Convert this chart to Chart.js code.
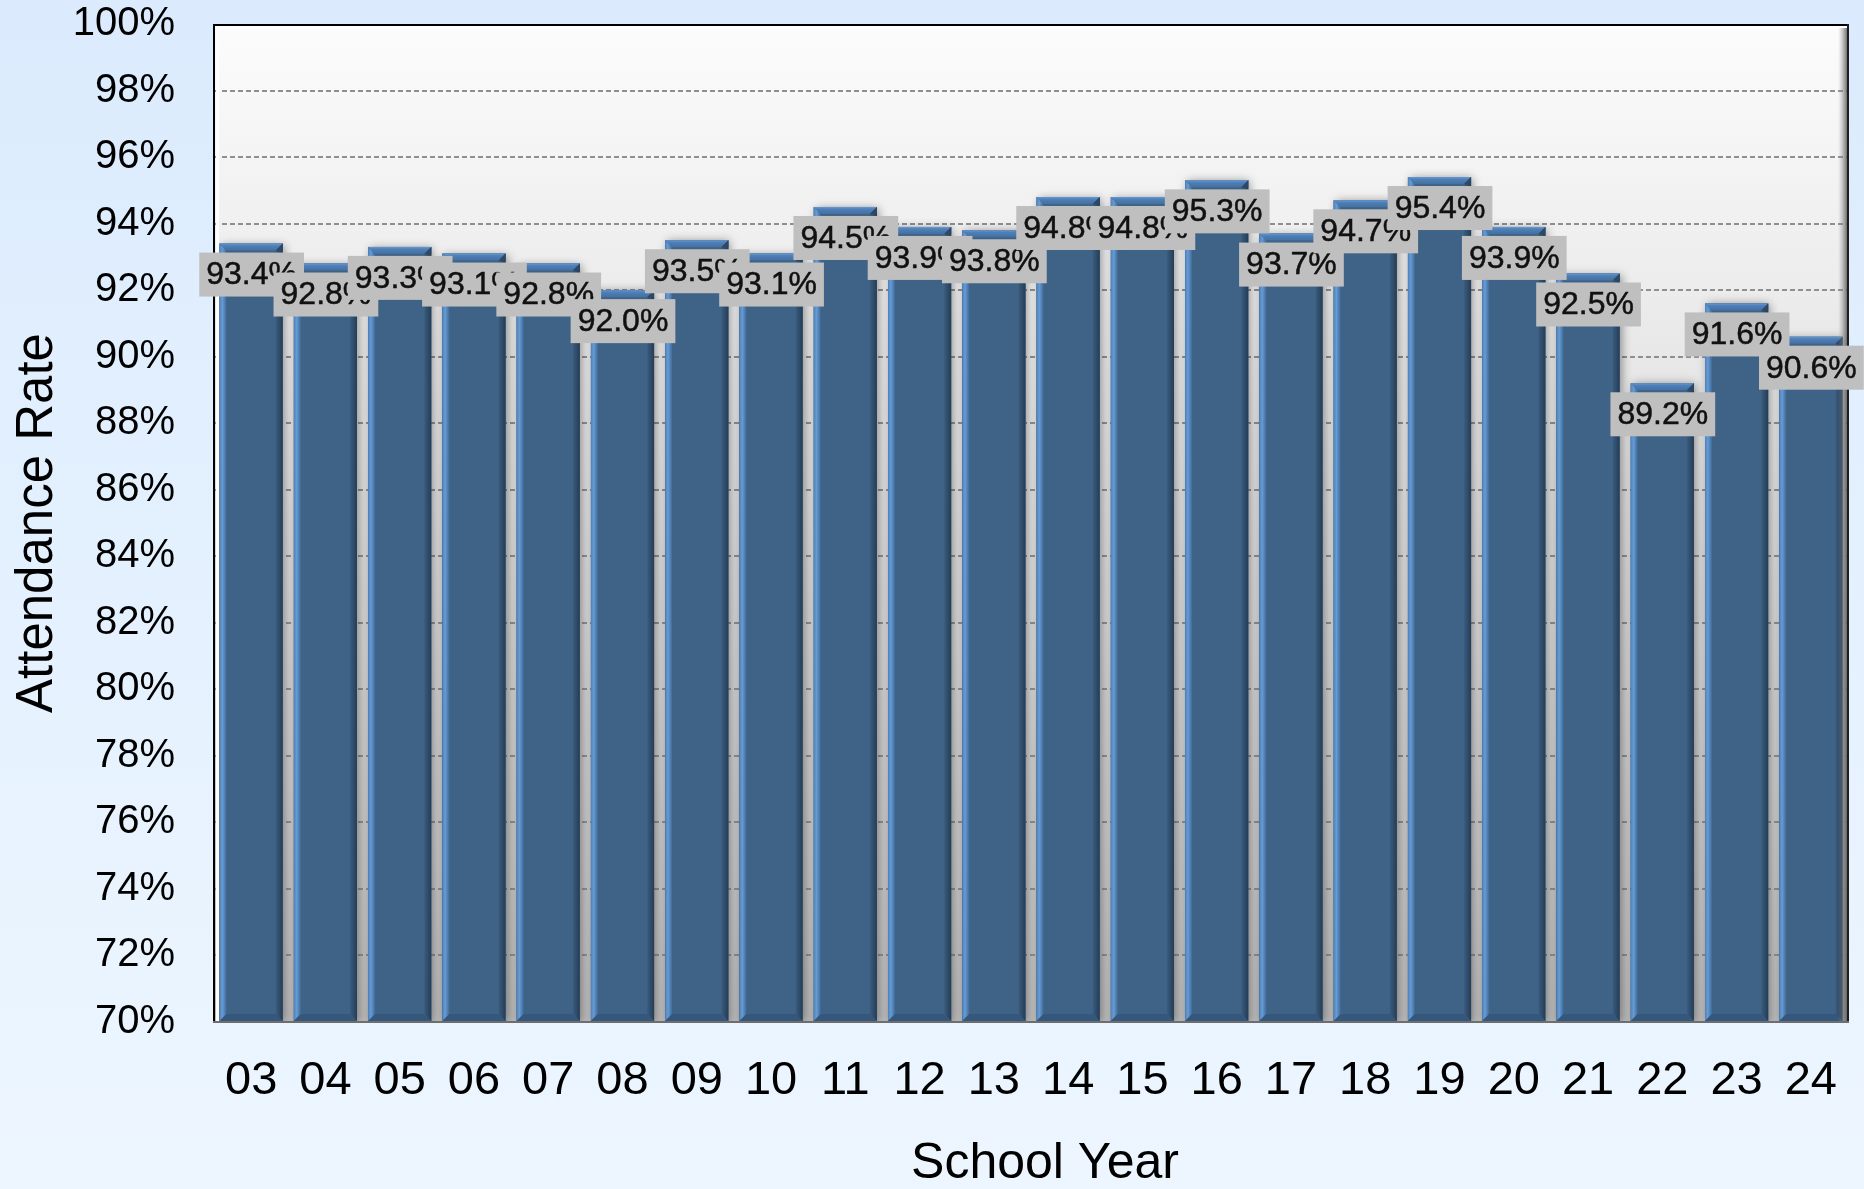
<!DOCTYPE html>
<html>
<head>
<meta charset="utf-8">
<script src="https://cdn.jsdelivr.net/npm/chart.js@4.4.1/dist/chart.umd.min.js"></script>
<style>
  html, body { margin: 0; padding: 0; background: #e4f0fd; }
  #wrap { width: 1864px; height: 1189px; position: relative; }
</style>
</head>
<body>
<div id="wrap"><canvas id="attendanceChart"></canvas></div>
<script>
(function(){
  // school years (last two digits) and attendance rate in percent
  var years = ['03','04','05','06','07','08','09','10','11','12','13','14','15','16','17','18','19','20','21','22','23','24'];
  var rates = [93.4, 92.8, 93.3, 93.1, 92.8, 92.0, 93.5, 93.1, 94.5, 93.9, 93.8, 94.8, 94.8, 95.3, 93.7, 94.7, 95.4, 93.9, 92.5, 89.2, 91.6, 90.6];
  var yMin = 70;
  var yMax = 100;
  var yStep = 2;
  var xTitle = 'School Year';
  var yTitle = 'Attendance Rate';

  var FONT = '"Liberation Sans", Arial, sans-serif';

  // page + plot background, bar bevels, frame and value labels
  var backdrop = {
    id: 'backdrop',
    beforeDraw: function(chart){
      var ctx = chart.ctx, a = chart.chartArea;
      ctx.save();
      var g = ctx.createLinearGradient(0, 0, 0, chart.height);
      g.addColorStop(0, '#dbebfd');
      g.addColorStop(1, '#edf6ff');
      ctx.fillStyle = g;
      ctx.fillRect(0, 0, chart.width, chart.height);
      var p = ctx.createLinearGradient(0, a.top, 0, a.bottom);
      p.addColorStop(0, '#fcfcfc');
      p.addColorStop(0.3, '#eaeaea');
      p.addColorStop(1, '#bdbdbd');
      ctx.fillStyle = p;
      ctx.fillRect(a.left, a.top, a.right - a.left, a.bottom - a.top);
      ctx.restore();
    },
    beforeDatasetsDraw: function(chart){
      var ctx = chart.ctx, a = chart.chartArea;
      var meta = chart.getDatasetMeta(0);
      ctx.save();
      ctx.beginPath();
      ctx.rect(a.left, a.top, a.right - a.left, a.bottom - a.top);
      ctx.clip();
      ctx.shadowColor = 'rgba(0,0,0,0.4)';
      ctx.shadowBlur = 9;
      ctx.shadowOffsetX = 2;
      ctx.shadowOffsetY = 1;
      ctx.fillStyle = '#3f6387';
      meta.data.forEach(function(bar){
        var yB = Math.min(bar.base, a.bottom);
        ctx.fillRect(bar.x - bar.width / 2, bar.y, bar.width, yB - bar.y);
      });
      ctx.restore();
    },
    afterDatasetsDraw: function(chart){
      var ctx = chart.ctx, a = chart.chartArea;
      var meta = chart.getDatasetMeta(0);
      var b = 7;
      ctx.save();
      // bevels on each bar
      meta.data.forEach(function(bar){
        var x0 = bar.x - bar.width / 2, x1 = bar.x + bar.width / 2;
        var yT = bar.y, yB = Math.min(bar.base, a.bottom - 1);
        function poly(pts, fill){
          ctx.beginPath();
          ctx.moveTo(pts[0][0], pts[0][1]);
          for (var k = 1; k < pts.length; k++) ctx.lineTo(pts[k][0], pts[k][1]);
          ctx.closePath();
          ctx.fillStyle = fill;
          ctx.fill();
        }
        var lg = ctx.createLinearGradient(x0, 0, x0 + b, 0);
        lg.addColorStop(0, '#4f82bb');
        lg.addColorStop(0.4, '#669bd4');
        lg.addColorStop(1, '#3f6a98');
        poly([[x0, yT], [x0 + b, yT + b], [x0 + b, yB - b], [x0, yB]], lg);
        var rg = ctx.createLinearGradient(x1 - b, 0, x1, 0);
        rg.addColorStop(0, '#3a5c7f');
        rg.addColorStop(1, '#253d56');
        poly([[x1, yT], [x1, yB], [x1 - b, yB - b], [x1 - b, yT + b]], rg);
        poly([[x0, yB], [x1, yB], [x1 - b, yB - b], [x0 + b, yB - b]], '#34577b');
        var tg = ctx.createLinearGradient(0, yT, 0, yT + b);
        tg.addColorStop(0, '#6a9ad1');
        tg.addColorStop(0.3, '#4f80b9');
        tg.addColorStop(1, '#456f9f');
        poly([[x0, yT], [x1, yT], [x1 - b, yT + b], [x0 + b, yT + b]], tg);
        poly([[x1, yT], [x1, yT + b], [x1 - b, yT + b]], '#2c4864');
      });

      // plot frame
      ctx.fillStyle = '#ffffff';
      ctx.fillRect(a.left + 2, a.top + 2, 3, a.bottom - a.top - 2);
      ctx.fillRect(a.left + 2, a.top + 2, a.right - a.left - 4, 3);
      var sg = ctx.createLinearGradient(a.right - 10, 0, a.right - 1, 0);
      sg.addColorStop(0, 'rgba(160,160,160,0)');
      sg.addColorStop(1, 'rgba(90,90,90,0.85)');
      ctx.fillStyle = sg;
      ctx.fillRect(a.right - 10, a.top + 4, 9, a.bottom - a.top - 4);
      ctx.fillStyle = '#000000';
      ctx.fillRect(a.left - 1, a.top, a.right - a.left + 2, 2);
      ctx.fillRect(a.left - 1, a.top, 2, a.bottom - a.top);
      ctx.fillStyle = '#1e1e1e';
      ctx.fillRect(a.right - 1, a.top, 2, a.bottom - a.top + 1);
      ctx.fillStyle = '#6e6e6e';
      ctx.fillRect(a.left - 1, a.bottom - 1, a.right - a.left + 2, 2);

      // value labels, drawn in order so each box covers the previous one
      ctx.font = '32px ' + FONT;
      ctx.textAlign = 'center';
      ctx.textBaseline = 'middle';
      ctx.lineWidth = 0.5;
      ctx.strokeStyle = '#111111';
      meta.data.forEach(function(bar, i){
        var txt = rates[i].toFixed(1) + '%';
        var w = ctx.measureText(txt).width + 14;
        var h = 44;
        var bx = bar.x + 0.5 - w / 2, by = bar.y + 9;
        ctx.fillStyle = '#bfbfbf';
        ctx.fillRect(bx, by, w, h);
        ctx.fillStyle = '#111111';
        ctx.fillText(txt, bar.x + 0.5, by + h / 2 + 1);
        ctx.strokeText(txt, bar.x + 0.5, by + h / 2 + 1);
      });

      // x axis title (sits a little right of the plot centre in the original)
      ctx.font = '50px ' + FONT;
      ctx.fillStyle = '#000';
      ctx.fillText(xTitle, (a.left + a.right) / 2 + 14, a.bottom + 142);
      ctx.restore();
    }
  };

  new Chart(document.getElementById('attendanceChart'), {
    type: 'bar',
    data: {
      labels: years,
      datasets: [{
        data: rates,
        backgroundColor: '#3f6387',
        borderWidth: 0,
        barPercentage: 0.85,
        categoryPercentage: 1
      }]
    },
    options: {
      responsive: true,
      maintainAspectRatio: false,
      animation: false,
      devicePixelRatio: 1,
      layout: { padding: { left: 0, top: 24, right: 16, bottom: 0 } },
      plugins: {
        legend: { display: false },
        tooltip: { enabled: false }
      },
      scales: {
        x: {
          offset: true,
          grid: { display: false, drawTicks: false },
          border: { display: false },
          ticks: {
            color: '#000',
            padding: 31,
            maxRotation: 0,
            autoSkip: false,
            font: { family: FONT, size: 47, lineHeight: 1.2 }
          },
          title: { display: false },
          afterFit: function(axis){
            axis.height = 167;
            axis.paddingLeft = 0;
            axis.paddingRight = 0;
          }
        },
        y: {
          min: yMin,
          max: yMax,
          grid: {
            drawTicks: false,
            lineWidth: 2,
            color: function(c){
              var v = c.tick && c.tick.value;
              return (v === yMin || v === yMax) ? 'rgba(0,0,0,0)' : '#8f8f8f';
            }
          },
          border: { display: false, dash: [5, 3] },
          ticks: {
            stepSize: yStep,
            color: '#000',
            padding: 39,
            font: { family: FONT, size: 40 },
            callback: function(v){ return v + '%'; }
          },
          title: {
            display: true,
            text: yTitle,
            color: '#000',
            padding: { top: 12, bottom: 0 },
            font: { family: FONT, size: 51, lineHeight: 1 }
          },
          afterFit: function(axis){
            axis.width = 214;
            axis.paddingTop = 0;
            axis.paddingBottom = 0;
          }
        }
      }
    },
    plugins: [backdrop]
  });
})();
</script>
</body>
</html>
